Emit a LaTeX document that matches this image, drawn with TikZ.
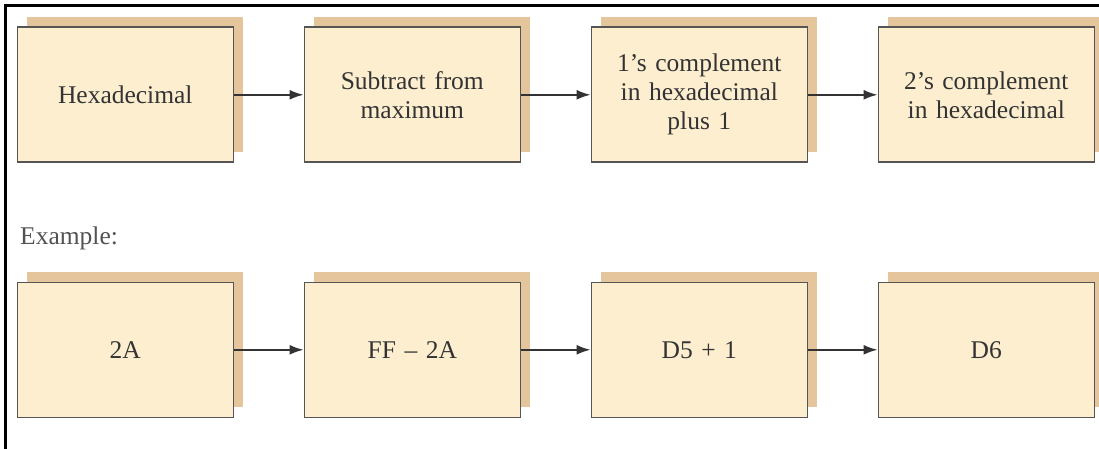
\documentclass[tikz,border=0pt]{standalone}
\usepackage{fontspec}
\setmainfont{Liberation Serif}
\usepackage{tikz}
\usepackage{xcolor}
\usetikzlibrary{positioning,shadows,arrows.meta}
\definecolor{boxfill}{HTML}{FDEED0}
\definecolor{boxshade}{HTML}{E5C59B}
\definecolor{boxline}{HTML}{555555}
\definecolor{inktext}{HTML}{333333}
\tikzset{
    hex-box/.style = {draw=boxline, fill=boxfill, line width=1.6pt, rectangle, minimum width=216pt, minimum height=135pt, inner sep=0pt, text width=200pt, align=center, text=inktext, font=\fontsize{25.5}{29}\selectfont, general shadow={shadow xshift=10pt, shadow yshift=10pt, fill=boxshade}},
    hex-arrow/.style = {draw=inktext, line width=1.6pt, -{Latex[length=14pt,width=10pt]}},
}

\begin{document}
\begin{tikzpicture}[x=1pt,y=1pt]
\useasboundingbox (0,0) rectangle (1099,-449);
\draw[line width=3pt] (5.5,-449) -- (5.5,-5.5) -- (1099,-5.5);
% conversion steps
\node [hex-box, anchor=north west] (hex) at (16.5,-26.5) {Hexadecimal};
\node [hex-box, right=69.4pt of hex] (sub) {Subtract from\\maximum};
\node [hex-box, right=69.4pt of sub] (ones) {1’s complement\\in hexadecimal\\plus 1};
\node [hex-box, right=69.4pt of ones] (twos) {2’s complement\\in hexadecimal};
\draw [hex-arrow] (hex) -- (sub);
\draw [hex-arrow] (sub) -- (ones);
\draw [hex-arrow] (ones) -- (twos);
% example
\node [anchor=base west, text=inktext!85, font=\fontsize{25.5}{29}\selectfont, inner sep=0pt] (example) at (20,-244) {Example:};
\node [hex-box, anchor=north west] (ex-hex) at (16.5,-281.5) {2A};
\node [hex-box, right=69.4pt of ex-hex] (ex-sub) {FF – 2A};
\node [hex-box, right=69.4pt of ex-sub] (ex-ones) {D5 + 1};
\node [hex-box, right=69.4pt of ex-ones] (ex-twos) {D6};
\draw [hex-arrow] (ex-hex) -- (ex-sub);
\draw [hex-arrow] (ex-sub) -- (ex-ones);
\draw [hex-arrow] (ex-ones) -- (ex-twos);
\end{tikzpicture}
\end{document}
